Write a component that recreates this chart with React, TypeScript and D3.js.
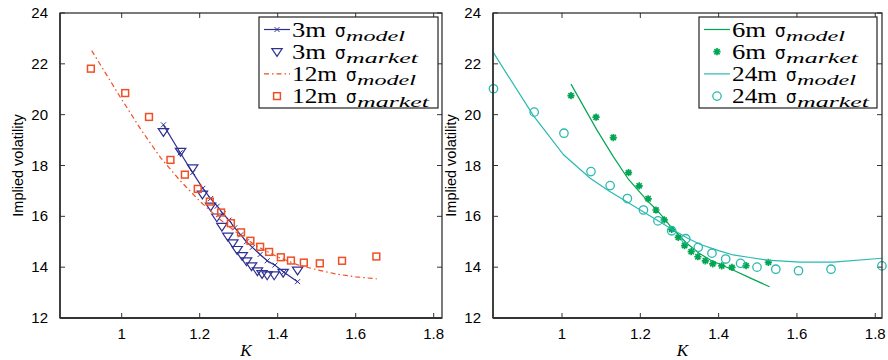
import { useEffect, useRef } from "react";
import * as d3 from "d3";

const kTicks = [1, 1.2, 1.4, 1.6, 1.8];
const volTicks = [12, 14, 16, 18, 20, 22, 24];

// left panel: 3m / 12m
const k3mModel = [1.107, 1.15, 1.182, 1.208, 1.228, 1.245, 1.26, 1.275, 1.29, 1.305, 1.32, 1.335, 1.355, 1.373, 1.393, 1.416, 1.451];
const vol3mModel = [19.6, 18.5, 17.72, 17.1, 16.7, 16.4, 16.1, 15.85, 15.55, 15.27, 15.0, 14.78, 14.5, 14.25, 14.08, 13.8, 13.43];
const k3mMarket = [1.107, 1.151, 1.182, 1.207, 1.228, 1.244, 1.257, 1.272, 1.285, 1.296, 1.309, 1.32, 1.333, 1.348, 1.36, 1.373, 1.391, 1.414, 1.451];
const vol3mMarket = [19.33, 18.55, 17.9, 16.87, 16.4, 15.97, 15.6, 15.22, 14.95, 14.69, 14.45, 14.24, 14.05, 13.85, 13.74, 13.69, 13.69, 13.79, 13.88];
const k12mModel = [0.923, 1.0, 1.05, 1.1, 1.15, 1.2, 1.25, 1.3, 1.35, 1.4, 1.45, 1.5, 1.55, 1.6, 1.654];
const vol12mModel = [22.52, 20.6, 19.4, 18.3, 17.4, 16.6, 15.9, 15.3, 14.8, 14.4, 14.1, 13.9, 13.73, 13.62, 13.54];
const k12mMarket = [0.921, 1.009, 1.07, 1.125, 1.162, 1.195, 1.226, 1.255, 1.28, 1.306, 1.33, 1.355, 1.378, 1.408, 1.434, 1.467, 1.508, 1.565, 1.653];
const vol12mMarket = [21.81, 20.85, 19.91, 18.22, 17.64, 17.08, 16.58, 16.15, 15.73, 15.37, 15.04, 14.8, 14.6, 14.39, 14.26, 14.18, 14.15, 14.25, 14.42];

// right panel: 6m / 24m
const k6mModel = [1.023, 1.089, 1.131, 1.17, 1.216, 1.242, 1.267, 1.28, 1.318, 1.35, 1.38, 1.438, 1.48, 1.53];
const vol6mModel = [21.2, 19.4, 18.35, 17.45, 16.65, 16.25, 15.8, 15.55, 14.95, 14.55, 14.27, 13.88, 13.58, 13.23];
const k6mMarket = [1.023, 1.087, 1.131, 1.17, 1.197, 1.22, 1.24, 1.261, 1.28, 1.297, 1.313, 1.33, 1.347, 1.366, 1.385, 1.408, 1.434, 1.47, 1.527];
const vol6mMarket = [20.75, 19.9, 19.1, 17.72, 17.2, 16.69, 16.25, 15.86, 15.49, 15.17, 14.85, 14.61, 14.41, 14.25, 14.13, 14.05, 13.99, 14.06, 14.19];
const k24mModel = [0.824, 0.927, 1.004, 1.072, 1.12, 1.157, 1.2, 1.242, 1.28, 1.32, 1.352, 1.4, 1.437, 1.48, 1.523, 1.608, 1.693, 1.817];
const vol24mModel = [22.46, 19.96, 18.42, 17.5, 17.0, 16.65, 16.25, 15.86, 15.5, 15.15, 14.9, 14.65, 14.48, 14.38, 14.28, 14.2, 14.2, 14.35];
const k24mMarket = [0.825, 0.929, 1.005, 1.074, 1.123, 1.167, 1.208, 1.245, 1.28, 1.316, 1.348, 1.383, 1.418, 1.456, 1.498, 1.546, 1.604, 1.687, 1.817];
const vol24mMarket = [21.02, 20.1, 19.27, 17.76, 17.21, 16.7, 16.25, 15.82, 15.43, 15.12, 14.78, 14.55, 14.32, 14.15, 14.0, 13.92, 13.86, 13.92, 14.05];

const BLUE = "#2e3192";
const RED = "#f04e23";
const GREEN = "#00a651";
const CYAN = "#2bb9b0";

type Marker = "x" | "triangle" | "square" | "circle" | "star" | "none";

interface Series {
  label: string;
  sub: string;
  k: number[];
  vol: number[];
  color: string;
  line: boolean;
  dash?: string;
  marker: Marker;
}

interface PanelDef {
  x0: number;
  x1: number;
  kDomain: [number, number];
  legendX: number;
  legendW: number;
  series: Series[];
}

const panels: PanelDef[] = [
  {
    x0: 60,
    x1: 442,
    kDomain: [0.8418, 1.8213],
    legendX: 259,
    legendW: 179,
    series: [
      { label: "3m", sub: "model", k: k3mModel, vol: vol3mModel, color: BLUE, line: true, marker: "x" },
      { label: "3m", sub: "market", k: k3mMarket, vol: vol3mMarket, color: BLUE, line: false, marker: "triangle" },
      { label: "12m", sub: "model", k: k12mModel, vol: vol12mModel, color: RED, line: true, dash: "5,3,1.5,3", marker: "none" },
      { label: "12m", sub: "market", k: k12mMarket, vol: vol12mMarket, color: RED, line: false, marker: "square" },
    ],
  },
  {
    x0: 493,
    x1: 882,
    kDomain: [0.8238, 1.8172],
    legendX: 699,
    legendW: 178,
    series: [
      { label: "6m", sub: "model", k: k6mModel, vol: vol6mModel, color: GREEN, line: true, marker: "none" },
      { label: "6m", sub: "market", k: k6mMarket, vol: vol6mMarket, color: GREEN, line: false, marker: "star" },
      { label: "24m", sub: "model", k: k24mModel, vol: vol24mModel, color: CYAN, line: true, marker: "none" },
      { label: "24m", sub: "market", k: k24mMarket, vol: vol24mMarket, color: CYAN, line: false, marker: "circle" },
    ],
  },
];

const TOP = 13;
const BOTTOM = 318;

function drawMarker(g: any, m: Marker, x: number, y: number, color: string) {
  if (m === "x") {
    const s = 2.5;
    g.append("path")
      .attr("d", `M${x - s},${y - s}L${x + s},${y + s}M${x - s},${y + s}L${x + s},${y - s}`)
      .attr("stroke", color).attr("stroke-width", 1);
  } else if (m === "triangle") {
    const s = 5.2;
    g.append("path")
      .attr("d", `M${x - s},${y - s * 0.6}L${x + s},${y - s * 0.6}L${x},${y + s * 0.9}Z`)
      .attr("fill", "none").attr("stroke", color).attr("stroke-width", 1.2);
  } else if (m === "square") {
    const s = 3.4;
    g.append("rect")
      .attr("x", x - s).attr("y", y - s).attr("width", 2 * s).attr("height", 2 * s)
      .attr("fill", "none").attr("stroke", color).attr("stroke-width", 1.5);
  } else if (m === "circle") {
    g.append("circle")
      .attr("cx", x).attr("cy", y).attr("r", 4.2)
      .attr("fill", "none").attr("stroke", color).attr("stroke-width", 1.3);
  } else if (m === "star") {
    const s = 3.6;
    const d = s * 0.72;
    g.append("path")
      .attr("d", `M${x - s},${y}L${x + s},${y}M${x},${y - s}L${x},${y + s}M${x - d},${y - d}L${x + d},${y + d}M${x - d},${y + d}L${x + d},${y - d}`)
      .attr("stroke", color).attr("stroke-width", 1.7);
  }
}

const Panel = ({ p }: { p: PanelDef }) => {
  const gRef = useRef<SVGGElement>(null);

  useEffect(() => {
    if (!gRef.current) return;
    const g = d3.select(gRef.current);
    g.selectAll("*").remove();

    const x = d3.scaleLinear().domain(p.kDomain).range([p.x0, p.x1]);
    const y = d3.scaleLinear().domain([12, 24]).range([BOTTOM, TOP]);
    const tick = 5;

    // ticks on all four sides, pointing inward
    kTicks.forEach((t) => {
      const xx = x(t);
      g.append("line").attr("x1", xx).attr("x2", xx).attr("y1", BOTTOM).attr("y2", BOTTOM - tick).attr("stroke", "#333");
      g.append("line").attr("x1", xx).attr("x2", xx).attr("y1", TOP).attr("y2", TOP + tick).attr("stroke", "#333");
      g.append("text")
        .attr("x", xx).attr("y", BOTTOM + 21)
        .attr("text-anchor", "middle")
        .style("font-family", "Liberation Sans, Arial, sans-serif")
        .style("font-size", "15px")
        .text(String(t));
    });
    volTicks.forEach((t) => {
      const yy = y(t);
      g.append("line").attr("x1", p.x0).attr("x2", p.x0 + tick).attr("y1", yy).attr("y2", yy).attr("stroke", "#333");
      g.append("line").attr("x1", p.x1).attr("x2", p.x1 - tick).attr("y1", yy).attr("y2", yy).attr("stroke", "#333");
      g.append("text")
        .attr("x", p.x0 - 12).attr("y", yy + 5)
        .attr("text-anchor", "end")
        .style("font-family", "Liberation Sans, Arial, sans-serif")
        .style("font-size", "15px")
        .text(String(t));
    });

    // axis labels
    g.append("text")
      .attr("x", (p.x0 + p.x1) / 2 - 5).attr("y", BOTTOM + 38)
      .attr("text-anchor", "middle")
      .style("font-family", "Liberation Serif, Times New Roman, serif")
      .style("font-style", "italic")
      .style("font-size", "17px")
      .text("K");
    g.append("text")
      .attr("transform", `translate(${p.x0 - 37},${(TOP + BOTTOM) / 2}) rotate(-90)`)
      .attr("text-anchor", "middle")
      .style("font-family", "Liberation Sans, Arial, sans-serif")
      .style("font-size", "14.5px")
      .text("Implied volatility");

    const plot = g.append("g");
    p.series.forEach((s) => {
      const pts: [number, number][] = s.k.map((k, i) => [x(k), y(s.vol[i])]);
      if (s.line) {
        plot.append("path")
          .attr("d", d3.line()(pts))
          .attr("fill", "none")
          .attr("stroke", s.color)
          .attr("stroke-width", 1.2)
          .attr("stroke-dasharray", s.dash ?? null);
      }
      pts.forEach(([px, py]) => drawMarker(plot, s.marker, px, py, s.color));
    });

    // frame
    g.append("rect")
      .attr("x", p.x0).attr("y", TOP)
      .attr("width", p.x1 - p.x0).attr("height", BOTTOM - TOP)
      .attr("fill", "none").attr("stroke", "#222").attr("stroke-width", 1.2);
    g.append("line")
      .attr("x1", p.x0).attr("x2", p.x1).attr("y1", BOTTOM).attr("y2", BOTTOM)
      .attr("stroke", "#333").attr("stroke-width", 2);
    g.append("line")
      .attr("x1", p.x0).attr("x2", p.x0).attr("y1", TOP).attr("y2", BOTTOM)
      .attr("stroke", "#333").attr("stroke-width", 1.6);

    // legend (the figure's text is stretched, so widths are forced)
    const lg = g.append("g");
    const ly = 17;
    const lh = 91;
    lg.append("rect")
      .attr("x", p.legendX).attr("y", ly)
      .attr("width", p.legendW).attr("height", lh)
      .attr("fill", "white").attr("stroke", "#222").attr("stroke-width", 1.2);
    p.series.forEach((s, i) => {
      const base = ly + 19.5 + i * 22.2;
      const cy = base - 7;
      const sx0 = p.legendX + 5;
      const sx1 = p.legendX + 31;
      if (s.line) {
        lg.append("line")
          .attr("x1", sx0).attr("x2", sx1).attr("y1", cy).attr("y2", cy)
          .attr("stroke", s.color).attr("stroke-width", 1.2)
          .attr("stroke-dasharray", s.dash ?? null);
      }
      drawMarker(lg, s.marker, (sx0 + sx1) / 2, cy, s.color);

      const tx = p.legendX + 33;
      const labelW = s.label.length === 2 ? 34 : 45;
      const sigX = tx + labelW + 9;
      const subX = sigX + 11;
      lg.append("text")
        .attr("x", tx).attr("y", base)
        .attr("textLength", labelW).attr("lengthAdjust", "spacingAndGlyphs")
        .style("font-family", "Liberation Serif, Times New Roman, serif")
        .style("font-size", "20.5px")
        .text(s.label);
      lg.append("text")
        .attr("x", sigX).attr("y", base)
        .attr("textLength", 10.5).attr("lengthAdjust", "spacingAndGlyphs")
        .style("font-family", "DejaVu Sans, sans-serif")
        .style("font-size", "18.5px")
        .text("σ");
      lg.append("text")
        .attr("x", subX).attr("y", base + 4)
        .attr("textLength", s.sub === "model" ? 59 : 72).attr("lengthAdjust", "spacingAndGlyphs")
        .style("font-family", "Liberation Serif, Times New Roman, serif")
        .style("font-style", "italic")
        .style("font-size", "15px")
        .text(s.sub);
    });
  }, [p]);

  return <g ref={gRef} />;
};

export default function App() {
  return (
    <svg
      width={888}
      height={360}
      style={{ position: "absolute", left: 0, top: 0, background: "white" }}
    >
      {panels.map((p, i) => (
        <Panel key={i} p={p} />
      ))}
    </svg>
  );
}
